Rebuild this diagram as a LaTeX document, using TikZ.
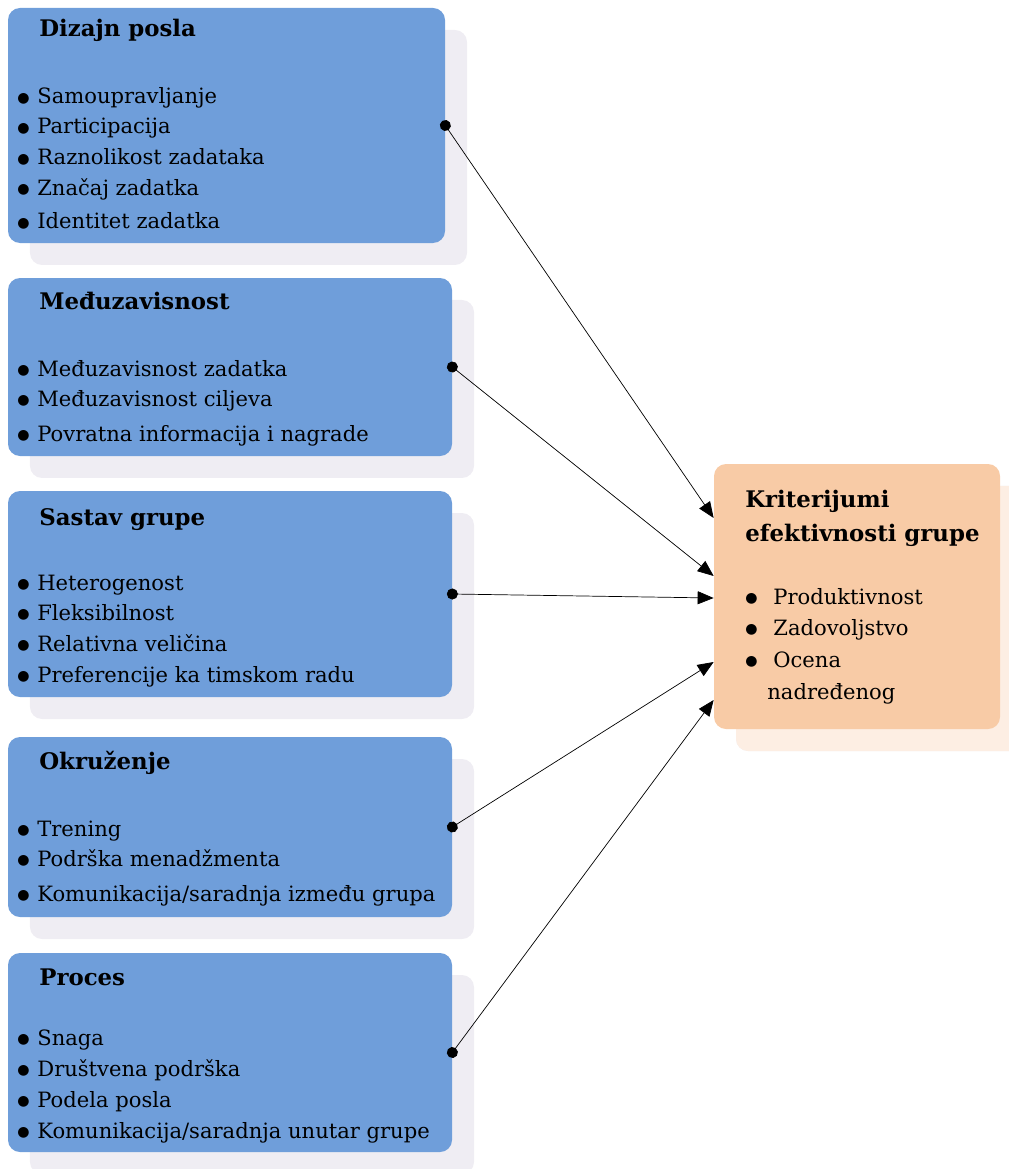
\documentclass[tikz,border=0pt]{standalone}
\usepackage{fontspec}
\setmainfont{DejaVu Serif}
\newfontfamily\symfont{DejaVu Sans}
\usetikzlibrary{positioning,fit,shadows,calc,arrows.meta}
\definecolor{boxblue}{HTML}{6F9EDA}
\definecolor{boxpeach}{HTML}{F8CBA6}
\definecolor{shblue}{HTML}{EFEDF3}
\definecolor{shpeach}{HTML}{FDEEE3}
\newcommand{\dotglyph}{\raisebox{0.9pt}{\fontsize{8pt}{8pt}\symfont ●}}
\newcommand{\bul}{\makebox[0.4cm][l]{\dotglyph}}
\newcommand{\ttlfont}{\bfseries\fontsize{13pt}{16pt}\selectfont}
\newcommand{\itmfont}{\fontsize{12pt}{14pt}\selectfont}

\begin{document}
\begin{tikzpicture}[x=0.02cm, y=-0.02cm, >={Triangle[length=3.2mm,width=2.6mm]}]
  \tikzstyle{blk}=[rectangle, rounded corners=2.4mm, inner sep=0pt, fill=boxblue,
    drop shadow={shadow xshift=0.44cm, shadow yshift=-0.44cm, fill=shblue, opacity=1}]
  \tikzstyle{crit}=[blk, fill=boxpeach,
    drop shadow={shadow xshift=0.44cm, shadow yshift=-0.44cm, fill=shpeach, opacity=1}]
  \tikzstyle{ttl}=[anchor=base west, inner sep=0pt, font=\ttlfont]
  \tikzstyle{itm}=[anchor=base west, inner sep=0pt, font=\itmfont]

  \useasboundingbox (0,0) rectangle (1008,1169);

  % boxes
  \node[blk, fit={(8,8) (445,243)}] (b1) {};
  \node[blk, fit={(8,278) (452,456)}] (b2) {};
  \node[blk, fit={(8,491) (452,697)}] (b3) {};
  \node[blk, fit={(8,737) (452,917)}] (b4) {};
  \node[blk, fit={(8,953) (452,1152)}] (b5) {};
  \node[crit, fit={(714,464) (1000,729)}] (crit) {};

  % Dizajn posla
  \node[ttl] (b1-t) at (39,37) {Dizajn posla};
  \foreach \y/\t [count=\i] in {104/Samoupravljanje, 134/Participacija,
      165/Raznolikost zadataka, 195/Značaj zadatka, 229/Identitet zadatka}
    \node[itm] (b1-\i) at (17,\y) {\bul\t};

  % Međuzavisnost
  \node[ttl] (b2-t) at (39,309) {Međuzavisnost};
  \foreach \y/\t [count=\i] in {376/Međuzavisnost zadatka, 406/Međuzavisnost ciljeva,
      441/Povratna informacija i nagrade}
    \node[itm] (b2-\i) at (17,\y) {\bul\t};

  % Sastav grupe
  \node[ttl] (b3-t) at (39,525) {Sastav grupe};
  \foreach \y/\t [count=\i] in {590/Heterogenost, 620/Fleksibilnost,
      651/Relativna veličina, 682/Preferencije ka timskom radu}
    \node[itm] (b3-\i) at (17,\y) {\bul\t};

  % Okruženje
  \node[ttl] (b4-t) at (39,769) {Okruženje};
  \foreach \y/\t [count=\i] in {836/Trening, 866/Podrška menadžmenta,
      901/{Komunikacija/saradnja između grupa}}
    \node[itm] (b4-\i) at (17,\y) {\bul\t};

  % Proces
  \node[ttl] (b5-t) at (39,985) {Proces};
  \foreach \y/\t [count=\i] in {1045/Snaga, 1076/Društvena podrška,
      1107/Podela posla, 1138/{Komunikacija/saradnja unutar grupe}}
    \node[itm] (b5-\i) at (17,\y) {\bul\t};

  % Kriterijumi
  \node[ttl] (c-t1) at (745,507) {Kriterijumi};
  \node[ttl] (c-t2) at (745,541) {efektivnosti grupe};
  \foreach \y/\t [count=\i] in {604/Produktivnost, 635/Zadovoljstvo, 667/Ocena}
    \node[itm] (c-\i) at (745,\y) {\makebox[0.56cm][l]{\dotglyph}\t};
  \node[itm] (c-4) at (767,699) {nadređenog};

  % connectors
  \draw[{Circle[length=2.2mm]}->, shorten <=-1.1mm] (b1.east) -- ($(crit.west)+(0,-78.5)$);
  \draw[{Circle[length=2.2mm]}->, shorten <=-1.1mm] (b2.east) -- ($(crit.west)+(0,-20.5)$);
  \draw[{Circle[length=2.2mm]}->, shorten <=-1.1mm] (b3.east) -- ($(crit.west)+(0,1.5)$);
  \draw[{Circle[length=2.2mm]}->, shorten <=-1.1mm] (b4.east) -- ($(crit.west)+(0,65.5)$);
  \draw[{Circle[length=2.2mm]}->, shorten <=-1.1mm] (b5.east) -- ($(crit.west)+(0,103.5)$);
\end{tikzpicture}
\end{document}
